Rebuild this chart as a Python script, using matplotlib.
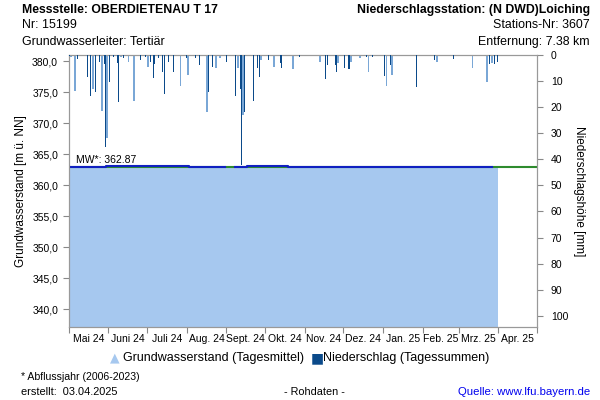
import matplotlib
matplotlib.use("Agg")
import matplotlib.pyplot as plt
import matplotlib.dates as mdates
import pandas as pd
import numpy as np

plt.rcParams['font.family'] = ['Liberation Sans', 'DejaVu Sans']

# ---- data ----
month_labels = ["Mai 24", "Juni 24", "Juli 24", "Aug. 24", "Sept. 24", "Okt. 24",
                "Nov. 24", "Dez. 24", "Jan. 25", "Feb. 25", "Mrz. 25", "Apr. 25"]

# groundwater level (Tagesmittel) as step segments: start date, level [m ü. NN]
gw_dates = ["2024-05-01", "2024-05-30", "2024-08-03", "2024-08-31", "2024-09-08",
            "2024-09-17", "2024-10-19", "2025-03-27", "2025-04-01"]
gw_levels = [362.95, 363.10, 362.95, np.nan, 362.95, 363.10, 362.95, 362.90, 362.90]
gw_fill_levels = [362.95, 363.10, 362.95, 362.92, 362.95, 363.10, 362.95, 362.90, 362.90]

mw_value = 362.87

# precipitation daily sums [mm]
rain_dates = ["2024-05-02", "2024-05-03", "2024-05-06", "2024-05-08", "2024-05-16",
              "2024-05-18", "2024-05-20", "2024-05-22", "2024-05-25", "2024-05-27",
              "2024-05-29", "2024-05-30", "2024-05-31", "2024-06-02", "2024-06-05",
              "2024-06-08", "2024-06-09", "2024-06-11", "2024-06-13", "2024-06-17",
              "2024-06-21", "2024-06-26", "2024-06-30", "2024-07-02", "2024-07-04",
              "2024-07-06", "2024-07-07", "2024-07-10", "2024-07-13", "2024-07-15",
              "2024-07-18", "2024-07-22", "2024-07-27", "2024-08-01", "2024-08-02",
              "2024-08-08", "2024-08-11", "2024-08-17", "2024-08-18", "2024-08-21",
              "2024-08-24", "2024-08-27", "2024-09-01", "2024-09-08", "2024-09-10",
              "2024-09-12", "2024-09-13", "2024-09-14", "2024-09-15", "2024-09-22",
              "2024-09-25", "2024-09-27", "2024-09-28", "2024-10-04", "2024-10-08",
              "2024-10-13", "2024-10-14", "2024-10-23", "2024-10-28", "2024-11-13",
              "2024-11-17", "2024-11-19", "2024-11-25", "2024-11-26", "2024-11-27",
              "2024-12-02", "2024-12-05", "2024-12-06", "2024-12-07", "2024-12-14",
              "2024-12-19", "2024-12-21", "2024-12-24", "2025-01-02", "2025-01-04",
              "2025-01-07", "2025-01-08", "2025-01-27", "2025-02-10", "2025-02-12",
              "2025-02-25", "2025-03-12", "2025-03-23", "2025-03-25", "2025-03-27",
              "2025-03-29", "2025-03-31"]
rain_mm = [0.5, 0.8, 13.7, 1.5, 8.5,
           15.6, 13.0, 14.0, 2.7, 21.4,
           3.5, 35.4, 32.0, 10.5, 0.8,
           3.0, 18.0, 0.8, 1.2, 2.8,
           17.6, 2.0, 0.8, 4.5, 2.5,
           9.0, 3.5, 1.2, 6.5, 15.0,
           2.5, 6.5, 11.8, 1.2, 7.5,
           1.2, 4.0, 22.0, 14.0, 4.5,
           5.0, 1.2, 2.8, 15.6, 5.0,
           13.0, 42.0, 23.0, 22.0, 17.5,
           5.0, 8.5, 2.0, 2.0, 4.5,
           3.0, 5.0, 5.5, 0.8, 2.5,
           9.2, 4.0, 4.0, 6.5, 3.0,
           4.8, 5.5, 5.5, 2.5, 1.2,
           0.8, 6.5, 0.8, 8.0, 11.8,
           4.0, 7.5, 12.3, 2.0, 2.8,
           1.5, 4.8, 10.3, 3.5, 3.0,
           3.5, 2.5]

# ---- figure ----
fig = plt.figure(figsize=(6, 4), dpi=100)
ax = fig.add_axes([68.5/600, 1 - 327/400, (537-68.5)/600, (327-55)/400])
ax2 = ax.twinx()

gwd = pd.to_datetime(gw_dates)
rd = pd.to_datetime(rain_dates)

ax.fill_between(gwd, 0, gw_fill_levels, step='post', color='#A6C8EF', lw=0, zorder=1)
ax.axhline(mw_value, color='#2E8B2E', lw=1.5, zorder=2)
ax.step(gwd[:-1], gw_levels[:-1], where='post', color='#1020C0', lw=1.5, zorder=3)

ax.text(mdates.date2num(pd.Timestamp("2024-05-07")), mw_value + 0.35, "MW*: 362.87",
        fontsize=7.5, ha='left', va='bottom', zorder=4)

ax2.bar(rd, rain_mm, width=1.0, color='#7AA7D6', align='center', lw=0, zorder=2)
ax2.bar(rd, rain_mm, width=0.5, color='#0B4A8A', align='center', lw=0, zorder=3)

ax.set_xlim(pd.Timestamp("2024-05-01"), pd.Timestamp("2025-05-01"))
ax.set_ylim(337.15, 381.0)
ax2.set_ylim(104.3, 0)

ax.set_yticks(np.arange(340, 381, 5))
ax.set_yticklabels([f"{v:.1f}".replace('.', ',') for v in np.arange(340, 381, 5)])
ax2.set_yticks(np.arange(0, 101, 10))

month_starts = pd.date_range("2024-05-01", "2025-05-01", freq='MS')
ax.set_xticks(month_starts)
ax.set_xticklabels([])
mids = [month_starts[i] + (month_starts[i+1] - month_starts[i]) / 2 for i in range(12)]
ax.set_xticks(mids, minor=True)
ax.set_xticklabels(month_labels, minor=True)
ax.tick_params(axis='x', which='minor', length=0, labelsize=7.5, pad=5)
ax.tick_params(axis='x', which='major', length=4, color='#888888')
ax.tick_params(axis='y', labelsize=7.5, length=4, color='#888888')
ax2.tick_params(axis='y', labelsize=7.5, length=4, color='#888888', pad=6)

for a in (ax, ax2):
    for s in a.spines.values():
        s.set_color('#999999')

ax.set_ylabel("Grundwasserstand [m ü. NN]", fontsize=8.5, labelpad=4)
ax2.set_ylabel("Niederschlagshöhe [mm]", fontsize=8.5, rotation=-90, labelpad=12)

# header texts
fig.text(22/600, 1 - 10/400, "Messstelle: OBERDIETENAU T 17", fontsize=8.8,
         fontweight='bold', ha='left', va='center')
fig.text(22/600, 1 - 25/400, "Nr: 15199", fontsize=8.9, ha='left', va='center')
fig.text(22/600, 1 - 42/400, "Grundwasserleiter: Tertiär", fontsize=8.9, ha='left', va='center')
fig.text(590/600, 1 - 10/400, "Niederschlagsstation: (N DWD)Loiching", fontsize=8.8,
         fontweight='bold', ha='right', va='center')
fig.text(590/600, 1 - 25/400, "Stations-Nr: 3607", fontsize=8.9, ha='right', va='center')
fig.text(590/600, 1 - 42/400, "Entfernung: 7.38 km", fontsize=8.9, ha='right', va='center')

# legend
fig.text(110/600, 1 - 358/400, "▲", fontsize=9, color='#A6C8EF', ha='left', va='center',
         family=['DejaVu Sans'])
fig.text(123/600, 1 - 358/400, "Grundwasserstand (Tagesmittel)", fontsize=9,
         ha='left', va='center')
fig.text(311/600, 1 - 358/400, "■", fontsize=10, color='#0B4A8A', ha='left', va='center',
         family=['DejaVu Sans'])
fig.text(323/600, 1 - 358/400, "Niederschlag (Tagessummen)", fontsize=9.0,
         ha='left', va='center')

# footer
fig.text(21/600, 1 - 377/400, "* Abflussjahr (2006-2023)", fontsize=7.6, ha='left', va='center')
fig.text(21/600, 1 - 392/400, "erstellt:  03.04.2025", fontsize=7.9, ha='left', va='center')
fig.text(314/600, 1 - 392/400, "- Rohdaten -", fontsize=7.8, ha='center', va='center')
fig.text(590/600, 1 - 392/400, "Quelle: www.lfu.bayern.de", fontsize=8.2, color='#0000EE',
         ha='right', va='center')

fig.savefig("out.png", dpi=100)
